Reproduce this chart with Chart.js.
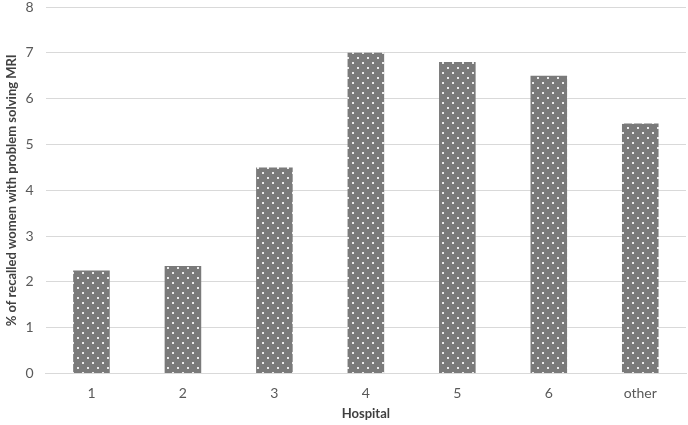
<!DOCTYPE html>
<html>
<head>
<meta charset="utf-8">
<script src="https://cdn.jsdelivr.net/npm/chart.js@4/dist/chart.umd.min.js"></script>
<style>
html,body{margin:0;padding:0;background:#fff;}
#wrap{width:688px;height:425px;position:relative;}
</style>
</head>
<body>
<div id="wrap"><canvas id="c" width="688" height="425"></canvas></div>
<script>
const categories = ['1', '2', '3', '4', '5', '6', 'other'];
const percentValues = [2.25, 2.35, 4.5, 7.0, 6.8, 6.5, 5.46];
const yTitle = '% of recalled women with problem solving MRI';
const xTitle = 'Hospital';

function makePattern() {
  const p = document.createElement('canvas');
  p.width = 10; p.height = 10;
  const g = p.getContext('2d');
  g.fillStyle = '#7a7a7a';
  g.fillRect(0, 0, 10, 10);
  g.fillStyle = 'rgba(255,255,255,0.85)';
  g.fillRect(2, 2, 2, 2);
  g.fillRect(7, 7, 2, 2);
  return document.getElementById('c').getContext('2d').createPattern(p, 'repeat');
}

const font = "Lato, 'Open Sans', sans-serif";
new Chart(document.getElementById('c'), {
  type: 'bar',
  data: {
    labels: categories,
    datasets: [{
      data: percentValues,
      backgroundColor: makePattern(),
      borderWidth: 0,
      barPercentage: 0.4,
      categoryPercentage: 1.0
    }]
  },
  options: {
    responsive: false,
    animation: false,
    layout: { padding: { left: 4, right: 2, top: 7, bottom: 3 } },
    plugins: { legend: { display: false }, tooltip: { enabled: false } },
    scales: {
      x: {
        grid: { display: false, drawTicks: false },
        border: { display: true, color: '#d9d9d9', width: 1 },
        ticks: { color: '#595959', font: { family: font, size: 14 }, padding: 11, maxRotation: 0 },
        title: { display: true, text: xTitle, color: '#404040', font: { family: font, size: 13, weight: 'bold' }, padding: { top: -6, bottom: 0 } }
      },
      y: {
        min: 0, max: 8,
        afterFit: (s) => { s.paddingTop = 0; },
        grid: { color: '#d9d9d9', drawTicks: false },
        border: { display: false },
        ticks: { stepSize: 1, color: '#595959', font: { family: font, size: 14 }, padding: 12 },
        title: { display: true, text: yTitle, color: '#404040', font: { family: font, size: 13, weight: 'bold' }, padding: { top: 0, bottom: -6 } }
      }
    }
  }
});
</script>
</body>
</html>
